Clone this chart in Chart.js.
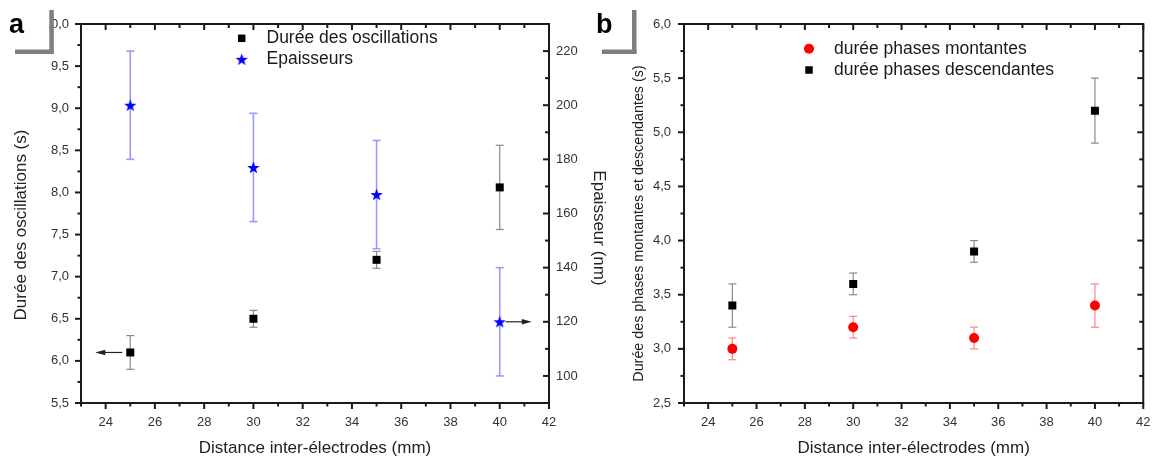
<!DOCTYPE html>
<html><head><meta charset="utf-8">
<script src="https://cdn.jsdelivr.net/npm/chart.js@4.4.1/dist/chart.umd.min.js"></script>
<style>
html,body{margin:0;padding:0;background:#fff;}
body{width:1162px;height:459px;position:relative;overflow:hidden;}
canvas{position:absolute;top:0;}
#ca{left:0;} #cb{left:580px;}
</style></head><body>
<canvas id="ca" width="620" height="459"></canvas>
<canvas id="cb" width="582" height="459"></canvas>
<script>
// ---------- data ----------
const distances = [25, 30, 35, 40];
const dureeOscillations = [6.1, 6.5, 7.2, 8.06];
const dureeOscillationsErr = [0.2, 0.1, 0.1, 0.5];
const epaisseurs = [200, 177, 167, 120];
const epaisseursErr = [20, 20, 20, 20];
const phasesMontantes = [3.0, 3.2, 3.1, 3.4];
const phasesMontantesErr = [0.1, 0.1, 0.1, 0.2];
const phasesDescendantes = [3.4, 3.6, 3.9, 5.2];
const phasesDescendantesErr = [0.2, 0.1, 0.1, 0.3];

// ---------- ticks ----------
const xTicks = [24, 26, 28, 30, 32, 34, 36, 38, 40, 42];
const xMinorTicks = [23, 25, 27, 29, 31, 33, 35, 37, 39, 41];
const yTicksA = [5.5, 6, 6.5, 7, 7.5, 8, 8.5, 9, 9.5, 10];
const yMinorTicksA = [5.75, 6.25, 6.75, 7.25, 7.75, 8.25, 8.75, 9.25, 9.75];
const y1TicksA = [100, 120, 140, 160, 180, 200, 220];
const y1MinorTicksA = [110, 130, 150, 170, 190, 210];
const yTicksB = [2.5, 3, 3.5, 4, 4.5, 5, 5.5, 6];
const yMinorTicksB = [2.75, 3.25, 3.75, 4.25, 4.75, 5.25, 5.75];

const FAM = '"Liberation Sans", Arial, sans-serif';
const comma = v => Number(v).toFixed(1).replace('.', ',');

function makeStar(size, color) {
  const c = document.createElement('canvas');
  c.width = c.height = size;
  const g = c.getContext('2d');
  g.fillStyle = color;
  g.beginPath();
  for (let k = 0; k < 10; k++) {
    const r = k % 2 ? size * 0.2 : size / 2;
    const a = -Math.PI / 2 + k * Math.PI / 5;
    g.lineTo(size / 2 + r * Math.cos(a), size / 2 + 0.6 + r * Math.sin(a));
  }
  g.closePath(); g.fill();
  return c;
}
const starImg = makeStar(13, '#0000ff');

function line(ctx, x1, y1, x2, y2) { ctx.beginPath(); ctx.moveTo(x1, y1); ctx.lineTo(x2, y2); ctx.stroke(); }

function drawErrBars(chart, dsIndex, errs, color, lw) {
  const meta = chart.getDatasetMeta(dsIndex);
  const ys = chart.scales[meta.yAxisID];
  const xs = chart.scales[meta.xAxisID];
  const ctx = chart.ctx;
  ctx.save();
  ctx.strokeStyle = color; ctx.lineWidth = lw;
  chart.data.datasets[dsIndex].data.forEach((pt, j) => {
    const x = xs.getPixelForValue(pt.x);
    const yt = ys.getPixelForValue(pt.y + errs[j]);
    const yb = ys.getPixelForValue(pt.y - errs[j]);
    line(ctx, x, yt, x, yb);
    line(ctx, x - 4, yt, x + 4, yt);
    line(ctx, x - 4, yb, x + 4, yb);
  });
  ctx.restore();
}

function drawFrame(chart, leftTicks, leftMinor, rightScaleId, rightTicks, rightMinor) {
  const { ctx, chartArea: { left, right, top, bottom }, scales } = chart;
  ctx.save();
  ctx.strokeStyle = '#1a1a1a';
  ctx.lineWidth = 2;
  ctx.strokeRect(left, top, right - left, bottom - top);
  xTicks.forEach(v => { const p = scales.x.getPixelForValue(v); line(ctx, p, bottom, p, bottom + 6); line(ctx, p, top, p, top + 6); });
  xMinorTicks.forEach(v => { const p = scales.x.getPixelForValue(v); line(ctx, p, bottom, p, bottom + 3.5); line(ctx, p, top, p, top + 4); });
  leftTicks.forEach(v => { const p = scales.y.getPixelForValue(v); line(ctx, left - 6, p, left, p); });
  leftMinor.forEach(v => { const p = scales.y.getPixelForValue(v); line(ctx, left - 3.5, p, left, p); });
  const rs = scales[rightScaleId];
  rightTicks.forEach(v => { const p = rs.getPixelForValue(v); line(ctx, right, p, right - 6, p); });
  rightMinor.forEach(v => { const p = rs.getPixelForValue(v); line(ctx, right, p, right - 4, p); });
  ctx.restore();
}

function drawArrow(ctx, x1, y, x2) {
  ctx.save();
  ctx.strokeStyle = '#222'; ctx.fillStyle = '#222'; ctx.lineWidth = 1.2;
  const dir = Math.sign(x2 - x1);
  line(ctx, x1, y, x2 - dir * 6, y);
  ctx.beginPath();
  ctx.moveTo(x2, y); ctx.lineTo(x2 - dir * 10, y - 2.8); ctx.lineTo(x2 - dir * 10, y + 2.8);
  ctx.closePath(); ctx.fill();
  ctx.restore();
}

function drawVTitle(ctx, text, x, y, rot, size) {
  ctx.save();
  ctx.translate(x, y); ctx.rotate(rot);
  ctx.font = size + 'px ' + FAM;
  ctx.fillStyle = '#222'; ctx.textAlign = 'center'; ctx.textBaseline = 'middle';
  ctx.fillText(text, 0, 0);
  ctx.restore();
}

function drawLegend(ctx, entries, mx, tx) {
  ctx.save();
  ctx.font = '17.5px ' + FAM;
  ctx.textAlign = 'left'; ctx.textBaseline = 'middle';
  entries.forEach(e => {
    ctx.fillStyle = e.color; ctx.strokeStyle = e.color;
    Chart.helpers.drawPoint(ctx, { pointStyle: e.style, radius: e.radius, borderWidth: 0, rotation: 0 }, mx, e.y);
    ctx.fillStyle = '#1a1a1a';
    ctx.fillText(e.text, tx, e.y);
  });
  ctx.restore();
}

function drawPanelLabel(ctx, letter, tx, bx, by, hx, hy, hw) {
  ctx.save();
  ctx.fillStyle = '#7f7f7f';
  ctx.fillRect(bx, by, 4.5, 44);
  ctx.fillRect(hx, hy, hw, 4.5);
  ctx.fillStyle = '#000';
  ctx.font = 'bold 27px ' + FAM;
  ctx.textBaseline = 'alphabetic'; ctx.textAlign = 'left';
  ctx.fillText(letter, tx, 33);
  ctx.restore();
}

const tickFont = { family: FAM, size: 13 };
const titleFont = { family: FAM, size: 17 };

function xScale() {
  return {
    type: 'linear', min: 23, max: 42,
    afterBuildTicks: s => { s.ticks = xTicks.map(v => ({ value: v })); },
    afterFit: s => { s.height = 56; },
    grid: { display: false, drawTicks: false }, border: { display: false },
    ticks: { font: tickFont, color: '#333', padding: 11.5, autoSkip: false, maxRotation: 0, callback: v => String(v) },
    title: { display: true, text: 'Distance inter-électrodes (mm)', font: titleFont, color: '#222', padding: { top: 0, bottom: 0.3 } }
  };
}

// ---------- chart a ----------
new Chart(document.getElementById('ca'), {
  type: 'scatter',
  data: {
    datasets: [
      { label: 'Durée des oscillations', data: distances.map((x, i) => ({ x, y: dureeOscillations[i] })), yAxisID: 'y',
        pointStyle: 'rect', pointRadius: 5.66, pointHoverRadius: 5.66, backgroundColor: '#000', borderColor: '#000', borderWidth: 0 },
      { label: 'Epaisseurs', data: distances.map((x, i) => ({ x, y: epaisseurs[i] })), yAxisID: 'y1',
        pointStyle: starImg, pointRadius: 6, backgroundColor: '#00f', borderColor: '#00f', borderWidth: 0 }
    ]
  },
  options: {
    responsive: false, animation: false, devicePixelRatio: 1, events: [],
    layout: { padding: { top: 24, left: 0, right: 0, bottom: 0 } },
    plugins: { legend: { display: false }, tooltip: { enabled: false } },
    scales: {
      x: xScale(),
      y: {
        position: 'left', min: 5.5, max: 10,
        afterBuildTicks: s => { s.ticks = yTicksA.map(v => ({ value: v })); },
        afterFit: s => { s.width = 81; },
        grid: { display: false, drawTicks: false }, border: { display: false },
        ticks: { font: tickFont, color: '#333', padding: 12, autoSkip: false, callback: v => comma(v) }
      },
      y1: {
        position: 'right', min: 90, max: 230,
        afterBuildTicks: s => { s.ticks = y1TicksA.map(v => ({ value: v })); },
        afterFit: s => { s.width = 71; },
        grid: { display: false, drawTicks: false }, border: { display: false },
        ticks: { font: tickFont, color: '#333', padding: 7, autoSkip: false, callback: v => String(v) }
      }
    }
  },
  plugins: [{
    id: 'decorA',
    beforeDatasetsDraw(chart) {
      drawErrBars(chart, 0, dureeOscillationsErr, '#8a8a8a', 1.2);
      drawErrBars(chart, 1, epaisseursErr, '#9a9aff', 1.6);
    },
    afterDatasetsDraw(chart) {
      const ctx = chart.ctx;
      drawFrame(chart, yTicksA, yMinorTicksA, 'y1', y1TicksA, y1MinorTicksA);
      const p0 = chart.getDatasetMeta(0).data[0];
      drawArrow(ctx, p0.x - 8, p0.y, p0.x - 35);
      const p1 = chart.getDatasetMeta(1).data[3];
      drawArrow(ctx, p1.x + 6, p1.y, p1.x + 32);
      drawVTitle(ctx, 'Durée des oscillations (s)', 21, 225, -Math.PI / 2, 17);
      drawVTitle(ctx, 'Epaisseur (nm)', 598.5, 228, Math.PI / 2, 17);
      drawLegend(ctx, [
        { style: 'rect', radius: 5.3, y: 38.3, color: '#000', text: 'Durée des oscillations' },
        { style: starImg, radius: 6, y: 59.3, color: '#00f', text: 'Epaisseurs' }
      ], 241.7, 266.5);
      ctx.save(); ctx.fillStyle = '#fff'; ctx.fillRect(0, 0, 49, 50); ctx.restore();
      drawPanelLabel(ctx, 'a', 9, 49.3, 10, 15, 49.5, 38.8);
    }
  }]
});

// ---------- chart b ----------
new Chart(document.getElementById('cb'), {
  type: 'scatter',
  data: {
    datasets: [
      { label: 'durée phases montantes', data: distances.map((x, i) => ({ x, y: phasesMontantes[i] })), yAxisID: 'y',
        pointStyle: 'circle', pointRadius: 5, pointHoverRadius: 5, backgroundColor: '#ff0000', borderColor: '#ff0000', borderWidth: 0 },
      { label: 'durée phases descendantes', data: distances.map((x, i) => ({ x, y: phasesDescendantes[i] })), yAxisID: 'y',
        pointStyle: 'rect', pointRadius: 5.66, pointHoverRadius: 5.66, backgroundColor: '#000', borderColor: '#000', borderWidth: 0 }
    ]
  },
  options: {
    responsive: false, animation: false, devicePixelRatio: 1, events: [],
    layout: { padding: { top: 24, left: 0, right: 10, bottom: 0 } },
    plugins: { legend: { display: false }, tooltip: { enabled: false } },
    scales: {
      x: xScale(),
      y: {
        position: 'left', min: 2.5, max: 6,
        afterBuildTicks: s => { s.ticks = yTicksB.map(v => ({ value: v })); },
        afterFit: s => { s.width = 104; },
        grid: { display: false, drawTicks: false }, border: { display: false },
        ticks: { font: tickFont, color: '#333', padding: 13, autoSkip: false, callback: v => comma(v) }
      }
    }
  },
  plugins: [{
    id: 'decorB',
    beforeDatasetsDraw(chart) {
      drawErrBars(chart, 0, phasesMontantesErr, '#ff8c8c', 1.3);
      drawErrBars(chart, 1, phasesDescendantesErr, '#8a8a8a', 1.2);
    },
    afterDatasetsDraw(chart) {
      const ctx = chart.ctx;
      drawFrame(chart, yTicksB, yMinorTicksB, 'y', yTicksB, yMinorTicksB);
      drawVTitle(ctx, 'Durée des phases montantes et descendantes (s)', 59, 223.5, -Math.PI / 2, 14.3);
      drawLegend(ctx, [
        { style: 'circle', radius: 5, y: 48.8, color: '#ff0000', text: 'durée phases montantes' },
        { style: 'rect', radius: 5.3, y: 70, color: '#000', text: 'durée phases descendantes' }
      ], 229, 254);
      drawPanelLabel(ctx, 'b', 16, 52, 10, 22, 49.5, 34.5);
    }
  }]
});
</script>
</body></html>
